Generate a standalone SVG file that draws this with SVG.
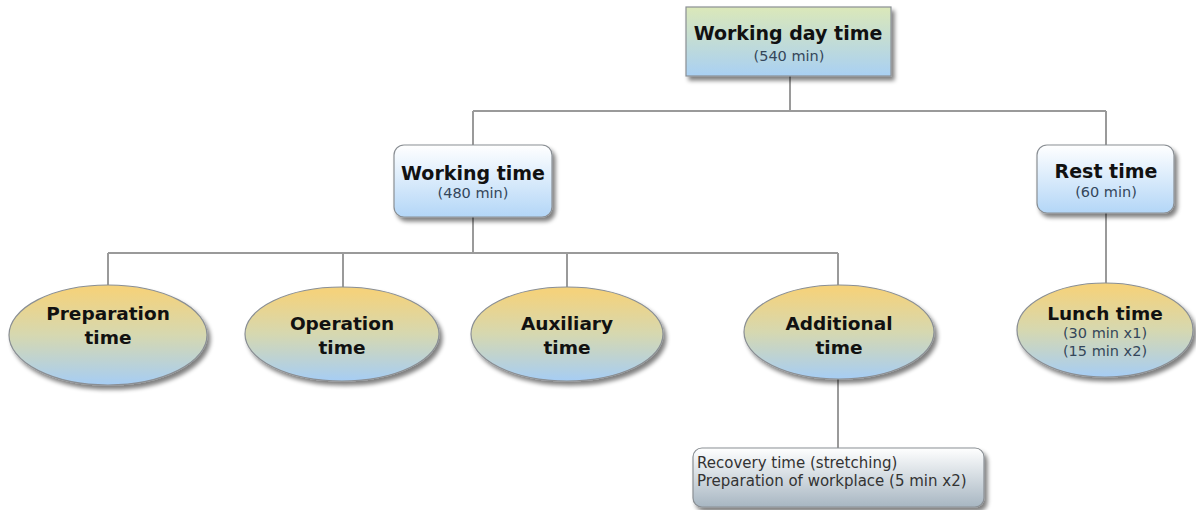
<svg xmlns="http://www.w3.org/2000/svg" width="1196" height="510" viewBox="0 0 1196 510">
  <defs>
    <linearGradient id="gTop" x1="0" y1="0" x2="0" y2="1">
      <stop offset="0" stop-color="#dbe8b9"/>
      <stop offset="1" stop-color="#a9d0f3"/>
    </linearGradient>
    <linearGradient id="gBox" x1="0" y1="0" x2="0" y2="1">
      <stop offset="0" stop-color="#ffffff"/>
      <stop offset="1" stop-color="#b3d6f7"/>
    </linearGradient>
    <linearGradient id="gOval" x1="0" y1="0" x2="0" y2="1">
      <stop offset="0.05" stop-color="#f4d27c"/>
      <stop offset="0.5" stop-color="#d6d8b0"/>
      <stop offset="1" stop-color="#a6cdf4"/>
    </linearGradient>
    <linearGradient id="gNote" x1="0" y1="0" x2="0" y2="1">
      <stop offset="0" stop-color="#ffffff"/>
      <stop offset="1" stop-color="#a7b6c2"/>
    </linearGradient>
    <filter id="shadow" x="-10%" y="-10%" width="125%" height="135%">
      <feGaussianBlur in="SourceAlpha" stdDeviation="2.2"/>
      <feOffset dx="3" dy="4" result="b"/>
      <feComponentTransfer><feFuncA type="linear" slope="0.5"/></feComponentTransfer>
      <feMerge><feMergeNode/><feMergeNode in="SourceGraphic"/></feMerge>
    </filter>
  </defs>
  <style>
    .shape { stroke: #8a8f94; stroke-width: 1.2; filter: url(#shadow); }
    .title { font-family: "DejaVu Sans", Verdana, sans-serif; font-weight: bold; font-size: 19px; fill: #111; text-anchor: middle; }
    .oval { font-family: "DejaVu Sans", Verdana, sans-serif; font-weight: bold; font-size: 18.5px; fill: #111; text-anchor: middle; }
    .sub { font-family: "DejaVu Sans", Verdana, sans-serif; font-size: 14.5px; fill: #34465a; text-anchor: middle; }
    .note { font-family: "DejaVu Sans", Verdana, sans-serif; font-size: 15px; fill: #333; }
    .link { fill: none; stroke: #9a9a9a; stroke-width: 2; }
  </style>
  <rect width="1196" height="510" fill="#ffffff"/>

  <g id="connectors">
    <path class="link" d="M790 76 V111 M473 111 H1106 M473 111 V146 M1106 111 V146"/>
    <path class="link" d="M473 216 V253 M108 253 H838 M108 253 V285 M343 253 V288 M567 253 V288 M838 253 V285"/>
    <path class="link" d="M1106 212 V284"/>
    <path class="link" d="M838 378 V449"/>
  </g>

  <g id="working-day-time">
    <rect class="shape" x="686" y="7" width="205" height="69" fill="url(#gTop)"/>
    <text class="title" x="788" y="40">Working day time</text>
    <text class="sub" x="789" y="61">(540 min)</text>
  </g>

  <g id="working-time">
    <rect class="shape" x="394" y="145" width="158" height="72" rx="10" fill="url(#gBox)"/>
    <text class="title" x="473" y="180">Working time</text>
    <text class="sub" x="473" y="198">(480 min)</text>
  </g>

  <g id="rest-time">
    <rect class="shape" x="1037" y="145" width="137" height="68" rx="10" fill="url(#gBox)"/>
    <text class="title" x="1106" y="178">Rest time</text>
    <text class="sub" x="1106" y="197">(60 min)</text>
  </g>

  <g id="preparation-time">
    <ellipse class="shape" cx="108" cy="335" rx="99" ry="50" fill="url(#gOval)"/>
    <text class="oval" x="108" y="320">Preparation</text>
    <text class="oval" x="108" y="344">time</text>
  </g>

  <g id="operation-time">
    <ellipse class="shape" cx="342" cy="334" rx="97" ry="47" fill="url(#gOval)"/>
    <text class="oval" x="342" y="330">Operation</text>
    <text class="oval" x="342" y="354">time</text>
  </g>

  <g id="auxiliary-time">
    <ellipse class="shape" cx="567" cy="334" rx="96" ry="47" fill="url(#gOval)"/>
    <text class="oval" x="567" y="330">Auxiliary</text>
    <text class="oval" x="567" y="354">time</text>
  </g>

  <g id="additional-time">
    <ellipse class="shape" cx="839" cy="332" rx="95" ry="47" fill="url(#gOval)"/>
    <text class="oval" x="839" y="330">Additional</text>
    <text class="oval" x="839" y="354">time</text>
  </g>

  <g id="lunch-time">
    <ellipse class="shape" cx="1105" cy="330" rx="88" ry="47" fill="url(#gOval)"/>
    <text class="oval" x="1105" y="320">Lunch time</text>
    <text class="sub" x="1105" y="338">(30 min x1)</text>
    <text class="sub" x="1105" y="356">(15 min x2)</text>
  </g>

  <g id="additional-detail">
    <rect class="shape" x="693" y="448" width="291" height="59" rx="9" fill="url(#gNote)"/>
    <text class="note" x="697" y="468">Recovery time (stretching)</text>
    <text class="note" x="697" y="486">Preparation of workplace (5 min x2)</text>
  </g>
</svg>
